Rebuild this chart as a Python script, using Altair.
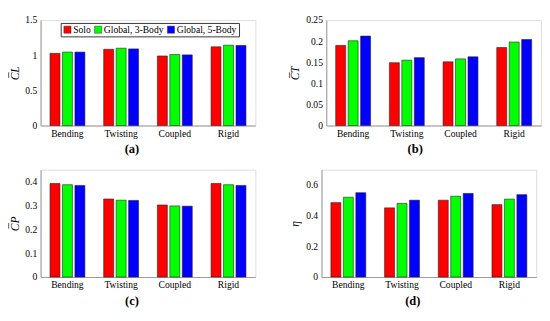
import altair as alt
import pandas as pd

categories = ["Bending", "Twisting", "Coupled", "Rigid"]
series = ["Solo", "Global, 3-Body", "Global, 5-Body"]
colors = ["#FF0000", "#00FF00", "#0000FF"]

cl_solo = [1.027, 1.085, 0.990, 1.120]
cl_g3 = [1.045, 1.100, 1.010, 1.143]
cl_g5 = [1.045, 1.090, 1.005, 1.140]

ct_solo = [0.190, 0.149, 0.151, 0.185]
ct_g3 = [0.201, 0.155, 0.158, 0.198]
ct_g5 = [0.212, 0.161, 0.163, 0.204]

cp_solo = [0.392, 0.327, 0.302, 0.392]
cp_g3 = [0.387, 0.322, 0.298, 0.387]
cp_g5 = [0.384, 0.321, 0.297, 0.384]

eta_solo = [0.485, 0.451, 0.501, 0.472]
eta_g3 = [0.520, 0.480, 0.527, 0.508]
eta_g5 = [0.550, 0.501, 0.545, 0.537]

FONT = "Liberation Serif"
W = 224


def frame(a, b, c):
    rows = []
    for i, cat in enumerate(categories):
        for s, vals in zip(series, (a, b, c)):
            rows.append({"cat": cat, "series": s, "value": vals[i]})
    return pd.DataFrame(rows)


def panel(a, b, c, ytitle, domain, tickvals, label, h, legend=False):
    df = frame(a, b, c)
    enc_color = dict(sort=series, scale=alt.Scale(domain=series, range=colors))
    if legend:
        enc_color["legend"] = alt.Legend(
            title=None, orient="none", direction="horizontal",
            legendX=21, legendY=3, fillColor="white", strokeColor="#333",
            padding=2, symbolType="square", symbolSize=55, symbolStrokeWidth=0.5,
            symbolStrokeColor="#333", labelFont=FONT, labelFontSize=10,
            labelColor="black", columnPadding=2, labelOffset=1, symbolOffset=0,
        )
    else:
        enc_color["legend"] = None
    return alt.Chart(df, title=alt.Title(
        label, orient="bottom", font=FONT, fontSize=13, fontWeight="bold",
        anchor="middle", frame="bounds", offset=6, color="black")).mark_bar(
        stroke="#222", strokeWidth=0.6
    ).encode(
        x=alt.X("cat:N", sort=categories, title=None,
                scale=alt.Scale(paddingInner=0.35, paddingOuter=0.175),
                axis=alt.Axis(labelAngle=0, labelFont=FONT, labelFontSize=10,
                              labelColor="black", ticks=False, labelPadding=3,
                              domainColor="#999")),
        xOffset=alt.XOffset("series:N", sort=series,
                            scale=alt.Scale(paddingInner=0.2, paddingOuter=0)),
        y=alt.Y("value:Q", title=ytitle,
                scale=alt.Scale(domain=domain, nice=False, zero=True),
                axis=alt.Axis(values=tickvals, format="~g", grid=False,
                              labelFont=FONT, labelFontSize=10, labelColor="black",
                              ticks=False, labelPadding=4, domainColor="#999",
                              titleFont=FONT, titleFontSize=12, titleFontStyle="italic",
                              titleFontWeight="normal", titleColor="black",
                              titlePadding=4)),
        color=alt.Color("series:N", **enc_color),
    ).properties(width=W, height=h)


pa = panel(cl_solo, cl_g3, cl_g5, "C\u0305L", [0, 1.5], [0, 0.5, 1, 1.5], "(a)", 110, legend=True)
pb = panel(ct_solo, ct_g3, ct_g5, "C\u0305T", [0, 0.25], [0, 0.05, 0.1, 0.15, 0.2, 0.25], "(b)", 110)
pc = panel(cp_solo, cp_g3, cp_g5, "C\u0305P", [0, 0.45], [0, 0.1, 0.2, 0.3, 0.4], "(c)", 112)
pd_ = panel(eta_solo, eta_g3, eta_g5, "\u03b7", [0, 0.7], [0, 0.2, 0.4, 0.6], "(d)", 112)

chart = alt.vconcat(
    alt.hconcat(pa, pb, spacing=34),
    alt.hconcat(pc, pd_, spacing=34),
    spacing=12,
).properties(padding=0).configure_view(stroke="#999", strokeWidth=1).configure(
    background="white"
)

chart.save("out.html", embed_options={"renderer": "svg", "actions": False})
